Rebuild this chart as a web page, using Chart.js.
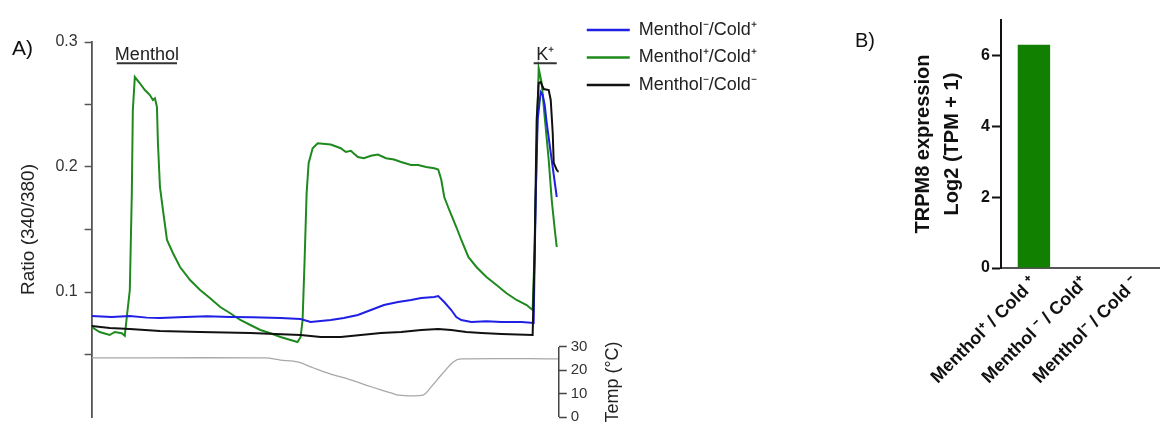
<!DOCTYPE html>
<html><head><meta charset="utf-8">
<script src="https://cdn.jsdelivr.net/npm/chart.js@4.4.0/dist/chart.umd.min.js"></script>
<style>
html,body{margin:0;padding:0;background:#fff;overflow:hidden;width:1160px;height:427px;}
#wrapA{position:absolute;left:0;top:0;width:840px;height:427px;}
#wrapB{position:absolute;left:840px;top:0;width:320px;height:427px;}
</style></head><body>
<div id="wrapA"><canvas id="chartA"></canvas></div>
<div id="wrapB"><canvas id="chartB"></canvas></div>
<script>
// ---------- Panel A data (time in frames, ratio 340/380) ----------
const seriesLabels = ['Menthol⁻/Cold⁺', 'Menthol⁺/Cold⁺', 'Menthol⁻/Cold⁻'];
const seriesColors = ['#1f1fe6', '#1e8a1e', '#111111'];

const blueT = [0, 20, 38, 55, 68, 93, 115, 138, 160, 188, 208, 218, 238, 251, 265, 278, 291, 305, 318, 328, 341, 345, 351, 358, 363, 368, 378, 393, 408, 428, 440, 442, 444, 447, 449, 451, 453, 458, 463];
const blueV = [0.0808, 0.0800, 0.0808, 0.0795, 0.0792, 0.0800, 0.0805, 0.0800, 0.0798, 0.0792, 0.0784, 0.0760, 0.0776, 0.0792, 0.0816, 0.0856, 0.0896, 0.0920, 0.0936, 0.0952, 0.0960, 0.0968, 0.0920, 0.0856, 0.0800, 0.0776, 0.0760, 0.0765, 0.0760, 0.0760, 0.0752, 0.1736, 0.2376, 0.2600, 0.2576, 0.2496, 0.2352, 0.2056, 0.1760];

const greenT = [0, 8, 18, 23, 30, 33, 35, 38, 40, 41, 43, 48, 53, 58, 61, 63, 65, 66, 68, 71, 75, 81, 88, 98, 108, 118, 128, 138, 148, 158, 168, 178, 188, 198, 205, 208, 210, 212, 214, 216, 220, 225, 238, 248, 253, 258, 265, 271, 278, 285, 293, 301, 308, 318, 325, 333, 341, 345, 348, 351, 356, 363, 368, 375, 383, 393, 403, 413, 423, 433, 439, 441, 443, 445, 448, 451, 455, 458, 461, 463];
const greenV = [0.072, 0.068, 0.0656, 0.068, 0.067, 0.065, 0.080, 0.1016, 0.179, 0.2456, 0.272, 0.267, 0.2616, 0.2576, 0.2536, 0.255, 0.248, 0.219, 0.184, 0.1656, 0.1416, 0.131, 0.120, 0.1096, 0.1016, 0.095, 0.088, 0.083, 0.0776, 0.0736, 0.0696, 0.067, 0.064, 0.0616, 0.060, 0.064, 0.0776, 0.1256, 0.179, 0.203, 0.215, 0.219, 0.218, 0.215, 0.212, 0.213, 0.208, 0.207, 0.209, 0.210, 0.207, 0.206, 0.204, 0.2016, 0.2016, 0.200, 0.199, 0.198, 0.190, 0.176, 0.1656, 0.152, 0.1416, 0.128, 0.120, 0.112, 0.1056, 0.099, 0.0936, 0.0896, 0.0856, 0.134, 0.214, 0.279, 0.267, 0.240, 0.2056, 0.1736, 0.150, 0.136];

const blackT = [0, 18, 38, 68, 108, 158, 208, 228, 248, 268, 288, 308, 328, 345, 358, 373, 388, 408, 439, 441, 443, 445, 447, 450, 455, 457, 459, 460, 463, 465];
const blackV = [0.0728, 0.0712, 0.0704, 0.0688, 0.0680, 0.0672, 0.0656, 0.0640, 0.0640, 0.0656, 0.0672, 0.0680, 0.0696, 0.0704, 0.0696, 0.0680, 0.0672, 0.0664, 0.0656, 0.134, 0.2376, 0.2672, 0.2680, 0.2624, 0.2616, 0.2536, 0.2272, 0.2032, 0.1976, 0.1960];

const tempT = [0, 173, 188, 205, 221, 238, 255, 273, 288, 298, 305, 330, 338, 348, 360, 368, 465];
const tempV = [25.3, 25.3, 24.4, 23.6, 21.0, 18.4, 16.3, 13.7, 11.6, 10.3, 9.4, 9.4, 12.9, 18.0, 23.6, 24.9, 24.9];

const ratioTicks = [0.05, 0.1, 0.15, 0.2, 0.25, 0.3];
const ratioLabelled = [0.1, 0.2, 0.3];
const tempTicks = [0, 10, 20, 30];

const stimulusLabels = ['Menthol', 'K⁺'];
const stimulusStart = [25, 440];
const stimulusEnd = [85, 463];
const stimulusLevel = 0.283;

// ---------- Panel B data ----------
const barCategories = ['Menthol⁺ / Cold ⁺', 'Menthol ⁻ / Cold⁺', 'Menthol⁻ / Cold ⁻'];
const barValues = [6.3, 0, 0];
const barTicks = [0, 2, 4, 6];

const FONT = '"Liberation Sans", Arial, Helvetica, sans-serif';
Chart.defaults.font.family = FONT;
Chart.defaults.color = '#222';

const pts = (t, v) => t.map((x, i) => ({x: x, y: v[i]}));

const panelAPlugin = {
  id: 'panelA',
  afterLayout(chart) {
    // legend sits just right of the short temperature axis
    const lg = chart.legend;
    const w = lg.right - lg.left;
    lg.left = chart.chartArea.right + 18.5;
    lg.right = lg.left + w;
  },
  afterDraw(chart) {
    const {ctx} = chart;
    const x = chart.scales.x, y = chart.scales.y, y2 = chart.scales.y2;
    ctx.save();
    ctx.fillStyle = '#111';
    ctx.textBaseline = 'alphabetic';
    ctx.textAlign = 'left';
    ctx.font = '21px ' + FONT;
    ctx.fillText('A)', 12, 55);
    stimulusLabels.forEach((lab, i) => {
      const x0 = x.getPixelForValue(stimulusStart[i]);
      const x1 = x.getPixelForValue(stimulusEnd[i]);
      const yb = y.getPixelForValue(stimulusLevel);
      ctx.font = '18px ' + FONT;
      ctx.textAlign = 'center';
      ctx.fillStyle = '#222';
      ctx.fillText(lab, (x0 + x1) / 2, yb - 3);
      ctx.strokeStyle = '#333';
      ctx.lineWidth = 2;
      ctx.beginPath(); ctx.moveTo(x0, yb); ctx.lineTo(x1, yb); ctx.stroke();
    });
    // short temperature axis
    const ax = y2.left;
    ctx.strokeStyle = '#444';
    ctx.lineWidth = 1.5;
    ctx.beginPath();
    ctx.moveTo(ax, y2.getPixelForValue(tempTicks[tempTicks.length - 1]));
    ctx.lineTo(ax, y2.getPixelForValue(tempTicks[0]));
    ctx.stroke();
    ctx.save();
    ctx.translate(ax + 54, (y2.getPixelForValue(tempTicks[0]) + y2.getPixelForValue(tempTicks[tempTicks.length - 1])) / 2);
    ctx.rotate(-Math.PI / 2);
    ctx.textAlign = 'center';
    ctx.textBaseline = 'middle';
    ctx.font = '18px ' + FONT;
    ctx.fillStyle = '#222';
    ctx.fillText('Temp (°C)', 0, 0);
    ctx.restore();
    ctx.restore();
  }
};

new Chart(document.getElementById('chartA'), {
  type: 'line',
  data: {
    datasets: [
      {label: seriesLabels[2], data: pts(blackT, blackV), borderColor: seriesColors[2], borderWidth: 2, pointRadius: 0, yAxisID: 'y', tension: 0},
      {label: seriesLabels[0], data: pts(blueT, blueV), borderColor: seriesColors[0], borderWidth: 2, pointRadius: 0, yAxisID: 'y', tension: 0},
      {label: seriesLabels[1], data: pts(greenT, greenV), borderColor: seriesColors[1], borderWidth: 2, pointRadius: 0, yAxisID: 'y', tension: 0},
      {label: 'Temp', data: pts(tempT, tempV), borderColor: '#a8a8a8', borderWidth: 1.3, pointRadius: 0, yAxisID: 'y2', tension: 0.3}
    ]
  },
  options: {
    responsive: true, maintainAspectRatio: false, animation: false,
    layout: {padding: {left: 13.6, top: 11.5, right: 59, bottom: 10}},
    plugins: {
      tooltip: {enabled: false},
      legend: {
        position: 'right', align: 'start', maxWidth: 400,
        labels: {
          usePointStyle: true, pointStyle: 'line', pointStyleWidth: 43,
          padding: 9.5, color: '#222', font: {size: 18},
          filter: (item) => item.datasetIndex < 3,
          sort: (a, b) => seriesLabels.indexOf(a.text) - seriesLabels.indexOf(b.text),
          generateLabels: (chart) => Chart.defaults.plugins.legend.labels.generateLabels(chart).map(l => Object.assign(l, {lineWidth: 2.5}))
        }
      }
    },
    scales: {
      x: {type: 'linear', min: 0, max: 465, display: false},
      y: {
        position: 'left', min: 0, max: 0.3,
        afterBuildTicks: (s) => { s.ticks = ratioTicks.map(v => ({value: v})); },
        afterFit: (s) => { s.paddingTop = 42; s.paddingBottom = 0; },
        ticks: {
          padding: 7, color: '#333', font: {size: 16},
          callback: (v) => ratioLabelled.some(l => Math.abs(l - v) < 1e-9) ? String(Math.round(v * 10) / 10) : ''
        },
        grid: {drawOnChartArea: false, tickLength: 7, tickWidth: 1.5, tickColor: '#555'},
        border: {color: '#555', width: 1.8},
        title: {display: true, text: 'Ratio (340/380)', color: '#222', font: {size: 19}, padding: {top: 4, bottom: 8}}
      },
      y2: {
        position: 'right', min: 0, max: 160.7,
        afterBuildTicks: (s) => { s.ticks = tempTicks.map(v => ({value: v})); },
        afterFit: (s) => { s.paddingTop = 0; s.paddingBottom = 0; },
        ticks: {padding: 4, color: '#333', font: {size: 15}},
        grid: {drawOnChartArea: false, tickLength: 8, tickWidth: 1.5, tickColor: '#444'},
        border: {display: false}
      }
    }
  },
  plugins: [panelAPlugin]
});

const panelBPlugin = {
  id: 'panelB',
  afterDraw(chart) {
    const {ctx} = chart;
    ctx.save();
    ctx.fillStyle = '#111';
    ctx.font = '20px ' + FONT;
    ctx.textBaseline = 'alphabetic';
    ctx.fillText('B)', 15, 47);
    ctx.restore();
  }
};

new Chart(document.getElementById('chartB'), {
  type: 'bar',
  data: {
    datasets: [{
      data: barValues.map((v, i) => ({x: i + 1, y: v})),
      backgroundColor: '#118000', borderWidth: 0,
      barPercentage: 0.635, categoryPercentage: 1
    }]
  },
  options: {
    responsive: true, maintainAspectRatio: false, animation: false,
    layout: {padding: {left: 64.6, top: 20, right: 0, bottom: 34}},
    plugins: {legend: {display: false}, tooltip: {enabled: false}},
    scales: {
      x: {
        type: 'linear', min: 0.355, max: 3.47, offset: false,
        afterBuildTicks: (s) => { s.ticks = barCategories.map((c, i) => ({value: i + 1})); },
        ticks: {
          autoSkip: false, minRotation: 45, maxRotation: 45, padding: 5,
          color: '#111', font: {size: 18, weight: 'bold'},
          callback: (v) => barCategories[Math.round(v) - 1]
        },
        grid: {drawOnChartArea: false, drawTicks: false},
        border: {color: '#555', width: 2}
      },
      y: {
        min: 0, max: 7,
        afterBuildTicks: (s) => { s.ticks = barTicks.map(v => ({value: v})); },
        ticks: {padding: 2, color: '#111', font: {size: 16, weight: 'bold'}},
        grid: {drawOnChartArea: false, tickLength: 9, tickWidth: 2, tickColor: '#111'},
        border: {color: '#111', width: 2},
        title: {display: true, text: ['TRPM8 expression', 'Log2 (TPM + 1)'], color: '#111',
          font: {size: 20, weight: 'bold', lineHeight: 1.45}, padding: {top: 4, bottom: 12.5}}
      }
    }
  },
  plugins: [panelBPlugin]
});
</script>
</body></html>
